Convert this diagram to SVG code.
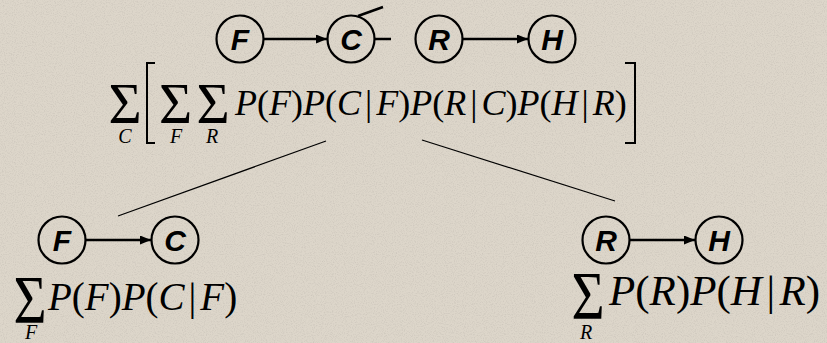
<svg xmlns="http://www.w3.org/2000/svg" width="827" height="343" viewBox="0 0 827 343">
<style>
.node circle{fill:none;stroke:#000;stroke-width:2.2}
.node text{font-family:"Liberation Sans",Arial,sans-serif;font-weight:bold;font-style:italic;font-size:30px;text-anchor:middle;fill:#000}
.edge{stroke:#000;stroke-width:2.5;fill:none}
.thin{stroke:#000;stroke-width:1.2;fill:none}
.eq{font-family:"Liberation Serif","Times New Roman",serif;fill:#000}
.i{font-style:italic}
.sig{font-family:"Liberation Serif","Times New Roman",serif;text-anchor:middle;font-size:57px;fill:#000}
.sub{font-family:"Liberation Serif","Times New Roman",serif;font-style:italic;text-anchor:middle;font-size:20px;fill:#000}
.br{stroke:#000;stroke-width:2;fill:none}
</style>
<defs>
<marker id="ah" markerUnits="userSpaceOnUse" markerWidth="12" markerHeight="10" refX="11" refY="4.5" orient="auto">
<path d="M0,0 L11,4.5 L0,9 z" fill="#000"/>
</marker>
<filter id="tex" x="0" y="0" width="100%" height="100%">
<feTurbulence type="fractalNoise" baseFrequency="0.9" numOctaves="2" seed="3" result="n"/>
<feColorMatrix in="n" type="matrix" values="0 0 0 0 0.45  0 0 0 0 0.42  0 0 0 0 0.38  0 0 0 -1.6 0.9" result="s"/>
<feComposite in="s" in2="SourceGraphic" operator="in"/>
</filter>
</defs>
<rect width="827" height="343" fill="#ddd6ca"/>
<rect width="827" height="343" fill="#ddd6ca" filter="url(#tex)" opacity="0.5"/>

<g id="connectors">
<line class="edge" x1="263" y1="39" x2="327" y2="39" marker-end="url(#ah)"/>
<line class="edge" x1="463" y1="39" x2="528" y2="39" marker-end="url(#ah)"/>
<line class="edge" x1="86" y1="240" x2="151" y2="240" marker-end="url(#ah)"/>
<line class="edge" x1="630" y1="240" x2="695" y2="240" marker-end="url(#ah)"/>
<line class="edge" x1="375" y1="39" x2="391" y2="39" stroke-width="2"/>
<line class="edge" x1="358" y1="16" x2="383" y2="7" stroke-width="2"/>
<line class="thin" x1="326" y1="141" x2="118" y2="216"/>
<line class="thin" x1="422" y1="140" x2="615" y2="201"/>
</g>

<g id="top-F" class="node"><circle cx="240" cy="39" r="23.5"/><text x="240" y="50">F</text></g>
<g id="top-C" class="node"><circle cx="351" cy="39" r="23.5"/><text x="351" y="50">C</text></g>
<g id="top-R" class="node"><circle cx="439" cy="39" r="23.5"/><text x="439" y="50">R</text></g>
<g id="top-H" class="node"><circle cx="552" cy="39" r="23.5"/><text x="552" y="50">H</text></g>

<g id="bl-F" class="node"><circle cx="62" cy="240" r="23.5"/><text x="62" y="251">F</text></g>
<g id="bl-C" class="node"><circle cx="175" cy="240" r="23.5"/><text x="175" y="251">C</text></g>
<g id="br-R" class="node"><circle cx="606" cy="240" r="23.5"/><text x="606" y="251">R</text></g>
<g id="br-H" class="node"><circle cx="719" cy="240" r="23.5"/><text x="719" y="251">H</text></g>

<g id="eq-top">
<text class="sig" x="125" y="123">Σ</text>
<text class="sub" x="125" y="143">C</text>
<path class="br" d="M155,63 H147 V143 H155"/>
<text class="sig" x="175.5" y="123">Σ</text>
<text class="sub" x="176" y="143">F</text>
<text class="sig" x="213" y="123">Σ</text>
<text class="sub" x="212" y="143">R</text>
<text class="eq" x="235" y="115" font-size="36"><tspan class="i">P</tspan>(<tspan class="i">F</tspan>)<tspan class="i">P</tspan>(<tspan class="i">C</tspan><tspan dx="4">|</tspan><tspan class="i" dx="4">F</tspan>)<tspan class="i">P</tspan>(<tspan class="i">R</tspan><tspan dx="4">|</tspan><tspan class="i" dx="4">C</tspan>)<tspan class="i">P</tspan>(<tspan class="i">H</tspan><tspan dx="4">|</tspan><tspan class="i" dx="4">R</tspan>)</text>
<path class="br" d="M625,63 H635 V143 H625"/>
</g>

<g id="eq-left">
<text class="sig" transform="translate(30,322) scale(1,1.2)" x="0" y="0">Σ</text>
<text class="sub" x="31" y="339">F</text>
<text class="eq" x="48" y="310" font-size="39"><tspan class="i">P</tspan>(<tspan class="i">F</tspan>)<tspan class="i">P</tspan>(<tspan class="i">C</tspan><tspan dx="4">|</tspan><tspan class="i" dx="4">F</tspan>)</text>
</g>

<g id="eq-right">
<text class="sig" transform="translate(588,318) scale(1,1.2)" x="0" y="0">Σ</text>
<text class="sub" x="586" y="339">R</text>
<text class="eq" x="609" y="305" font-size="43"><tspan class="i">P</tspan>(<tspan class="i">R</tspan>)<tspan class="i">P</tspan>(<tspan class="i">H</tspan><tspan dx="4.5">|</tspan><tspan class="i" dx="4.5">R</tspan>)</text>
</g>
</svg>
